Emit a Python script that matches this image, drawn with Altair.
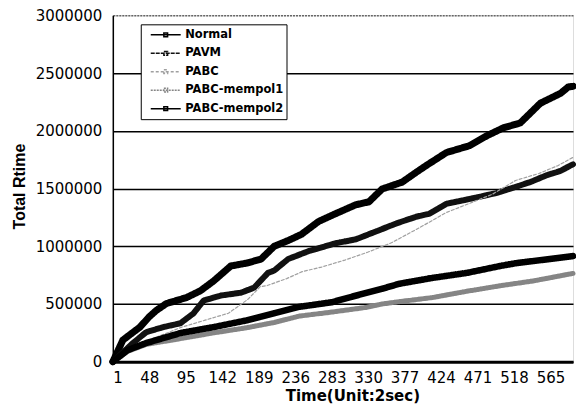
import altair as alt
import pandas as pd

series = ["Normal", "PAVM", "PABC", "PABC-mempol1", "PABC-mempol2"]

normal_t = [1, 14, 36, 48, 57, 70, 96, 114, 131, 153, 174, 192, 209, 227, 244, 266, 288, 314, 331, 348, 374, 392, 405, 431, 461, 483, 504, 526, 552, 578, 588, 594]
normal_v = [0, 188000, 300000, 390000, 444000, 504000, 556000, 615000, 700000, 829000, 855000, 889000, 1000000, 1050000, 1103000, 1214000, 1282000, 1359000, 1385000, 1496000, 1556000, 1641000, 1700000, 1812000, 1872000, 1957000, 2025000, 2068000, 2239000, 2325000, 2380000, 2385000]

pavm_t = [1, 27, 44, 66, 88, 105, 118, 140, 166, 183, 201, 209, 227, 253, 288, 314, 340, 366, 392, 409, 431, 461, 496, 539, 560, 577, 594]
pavm_v = [0, 162000, 256000, 300000, 333000, 419000, 530000, 573000, 598000, 641000, 770000, 790000, 890000, 957000, 1026000, 1060000, 1128000, 1197000, 1256000, 1282000, 1368000, 1410000, 1462000, 1556000, 1615000, 1650000, 1710000]

pabc_t = [1, 30, 60, 90, 120, 150, 175, 191, 200, 225, 245, 270, 300, 330, 360, 396, 430, 460, 490, 520, 550, 575, 594]
pabc_v = [0, 120000, 220000, 300000, 360000, 420000, 540000, 650000, 660000, 720000, 780000, 820000, 880000, 950000, 1030000, 1160000, 1290000, 1370000, 1450000, 1570000, 1630000, 1700000, 1770000]

mem1_t = [1, 20, 44, 88, 131, 174, 209, 241, 283, 327, 348, 370, 413, 457, 500, 543, 594]
mem1_v = [0, 90000, 150000, 200000, 250000, 295000, 340000, 395000, 430000, 470000, 500000, 520000, 556000, 610000, 658000, 700000, 765000]

mem2_t = [1, 20, 44, 88, 131, 174, 209, 241, 283, 305, 348, 370, 413, 457, 500, 522, 543, 594]
mem2_v = [0, 100000, 162000, 248000, 300000, 359000, 420000, 475000, 515000, 556000, 632000, 675000, 726000, 769000, 829000, 855000, 872000, 915000]

x_ticks = [1, 48, 95, 142, 189, 236, 283, 330, 377, 424, 471, 518, 565]
y_ticks = [0, 500000, 1000000, 1500000, 2000000, 2500000, 3000000]

colors = ["#000000", "#111111", "#a0a0a0", "#858585", "#000000"]
dashes = [[1, 0], [4, 1], [3, 2], [2, 1], [1, 0]]
widths = {"Normal": 7, "PAVM": 6, "PABC": 1.2, "PABC-mempol1": 5, "PABC-mempol2": 6.5}

rows = []
for name, ts, vs in [
    ("Normal", normal_t, normal_v),
    ("PAVM", pavm_t, pavm_v),
    ("PABC", pabc_t, pabc_v),
    ("PABC-mempol1", mem1_t, mem1_v),
    ("PABC-mempol2", mem2_t, mem2_v),
]:
    for t, v in zip(ts, vs):
        rows.append({"series": name, "t": t, "value": v, "w": widths[name]})
df = pd.DataFrame(rows)

legend_symbol = "M-2,0H2M-0.25,-0.25H0.25V0.25H-0.25Z"

leg = alt.Legend(orient="none", legendX=28, legendY=9, title=None,
                 symbolType=legend_symbol, symbolSize=225,
                 symbolStrokeWidth=1.5, symbolOffset=13.5,
                 labelOffset=11, padding=3, rowPadding=3.5, clipHeight=15,
                 labelFont="DejaVu Sans", labelFontWeight="bold",
                 labelFontSize=11.5, labelColor="black",
                 strokeColor="black", fillColor="white")

chart = alt.Chart(df).mark_line(strokeCap="round", strokeJoin="round").encode(
    x=alt.X("t:Q",
            scale=alt.Scale(domain=[1, 594], nice=False, zero=False),
            axis=alt.Axis(values=x_ticks, grid=False, ticks=False, tickSize=0,
                          labelFont="DejaVu Sans", labelFontSize=15, labelColor="black",
                          labelBaseline="alphabetic", labelPadding=21,
                          domainColor="black", domainWidth=3,
                          title="Time(Unit:2sec)", titleFont="DejaVu Sans",
                          titleFontSize=15, titleFontWeight="bold", titleColor="black",
                          titleX=240, titleY=39, titleBaseline="alphabetic", titleAlign="center")),
    y=alt.Y("value:Q",
            scale=alt.Scale(domain=[0, 3000000], nice=False),
            axis=alt.Axis(values=y_ticks, format="d", ticks=False, tickSize=0,
                          labelFont="DejaVu Sans", labelFontSize=15, labelColor="black",
                          labelPadding=11,
                          domainColor="black", domainWidth=1.5,
                          grid=True,
                          gridColor={"condition": {"test": "datum.value >= 3000000", "value": "#666666"}, "value": "black"},
                          gridDash={"condition": {"test": "datum.value >= 3000000", "value": [2, 1]}, "value": []},
                          gridWidth=1.5, gridOpacity=1,
                          title="Total Rtime", titleFont="Liberation Sans",
                          titleFontSize=16, titleFontWeight="bold", titleColor="black",
                          titleX=-93, titleY=171, titleAngle=270,
                          titleAlign="center", titleBaseline="middle")),
    color=alt.Color("series:N", scale=alt.Scale(domain=series, range=colors),
                    sort=series, legend=leg),
    strokeDash=alt.StrokeDash("series:N", scale=alt.Scale(domain=series, range=dashes),
                              sort=series, legend=leg),
    strokeWidth=alt.StrokeWidth("w:Q", scale=None, legend=None),
    order=alt.Order("t:Q"),
).properties(
    width=461, height=347,
    autosize=alt.AutoSizeParams(type="none"),
    padding={"left": 105, "top": 7, "right": 3, "bottom": 50},
).configure_view(
    stroke="#666666", strokeDash=[2, 1], strokeWidth=1
).configure_legend(
    strokeWidth=1.5
).configure(background="white")

chart.save("out.html", embed_options={"renderer": "svg", "actions": False})
